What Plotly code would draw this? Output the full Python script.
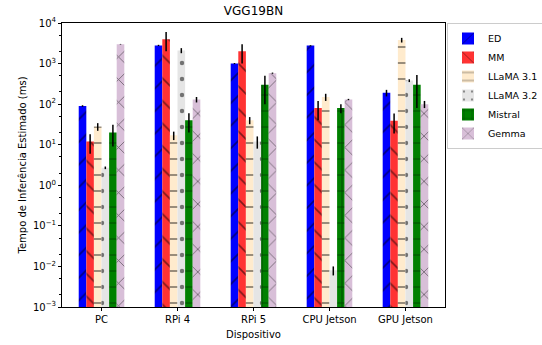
import plotly.graph_objects as go

devices = ["PC", "RPi 4", "RPi 5", "CPU Jetson", "GPU Jetson"]
models = ["ED", "MM", "LLaMA 3.1", "LLaMA 3.2", "Mistral", "Gemma"]

ed = [90, 2800, 1000, 2800, 190]
ed_err = [4, 100, 30, 60, 35]
mm = [12, 4000, 2000, 80, 39]
mm_err = [6, 2000, 1000, 40, 20]
llama31 = [28, 17, 40, 150, 3800]
llama31_err = [6, 4, 8, 30, 500]
llama32 = [2.7, 2100, 12, 0.008, 380]
llama32_err = [0.2, 300, 4, 0.002, 30]
mistral = [20, 40, 300, 80, 300]
mistral_err = [11, 20, 200, 20, 220]
gemma = [3000, 130, 580, 130, 100]
gemma_err = [50, 20, 20, 5, 20]

values = [ed, mm, llama31, llama32, mistral, gemma]
errors = [ed_err, mm_err, llama31_err, llama32_err, mistral_err, gemma_err]
colors = ["#0000ff", "#ff3333", "#ffebcd", "#e5e5e5", "#008000", "#d8bfd8"]
hatches = ["/", "\\", "-", ".", "+", "x"]
solid = [0.1, 0.1, 0.1, 0.06, 0.1, 0.1]

fig = go.Figure()
for name, v, e, c, h, s in zip(models, values, errors, colors, hatches, solid):
    fig.add_trace(go.Bar(
        x=devices, y=v, name=name,
        marker=dict(color=c, line=dict(width=0),
                    pattern=dict(shape=h, fgcolor="black", size=16, solidity=s)),
        error_y=dict(type="data", array=e, visible=True, color="black",
                     thickness=1.5, width=0),
    ))

tickvals = [10.0**k for k in range(-3, 5)]
ticktext = [f"10<sup>{k}</sup>" if k >= 0 else f"10<sup>\u2212{-k}</sup>" for k in range(-3, 5)]

fig.update_layout(
    width=542, height=345,
    margin=dict(l=62, r=97, t=23, b=38, autoexpand=False),
    paper_bgcolor="white", plot_bgcolor="white",
    font=dict(family="DejaVu Sans", size=10, color="black"),
    barmode="group", bargap=0.4, bargroupgap=0,
    title=dict(text="VGG19BN", x=(62 + 445) / 2 / 542, xanchor="center",
               y=1 - 11 / 345, yanchor="middle", yref="container",
               font=dict(size=12)),
    legend=dict(xref="container", yref="container",
                x=447 / 542, y=1 - 23 / 345, xanchor="left", yanchor="top",
                bgcolor="white", bordercolor="#cccccc", borderwidth=1,
                font=dict(size=9.5), tracegroupgap=0, itemwidth=30),
    showlegend=True,
)
fig.update_xaxes(
    title=dict(text="Dispositivo", font=dict(size=10), standoff=6),
    range=[-0.52, 4.52],
    showline=True, linecolor="black", linewidth=1, mirror=True,
    ticks="outside", ticklen=3, tickcolor="black",
    showgrid=False,
)
fig.update_yaxes(
    type="log", range=[-3, 4],
    title=dict(text="Tempo de Inferência Estimado (ms)", font=dict(size=10), standoff=4),
    tickvals=tickvals, ticktext=ticktext, tickfont=dict(size=10),
    showline=True, linecolor="black", linewidth=1, mirror=True,
    ticks="outside", ticklen=3, tickcolor="black",
    minor=dict(ticks="outside", ticklen=2, tickcolor="black", showgrid=False),
    showgrid=False, zeroline=False,
)

fig.write_html("out.html")
